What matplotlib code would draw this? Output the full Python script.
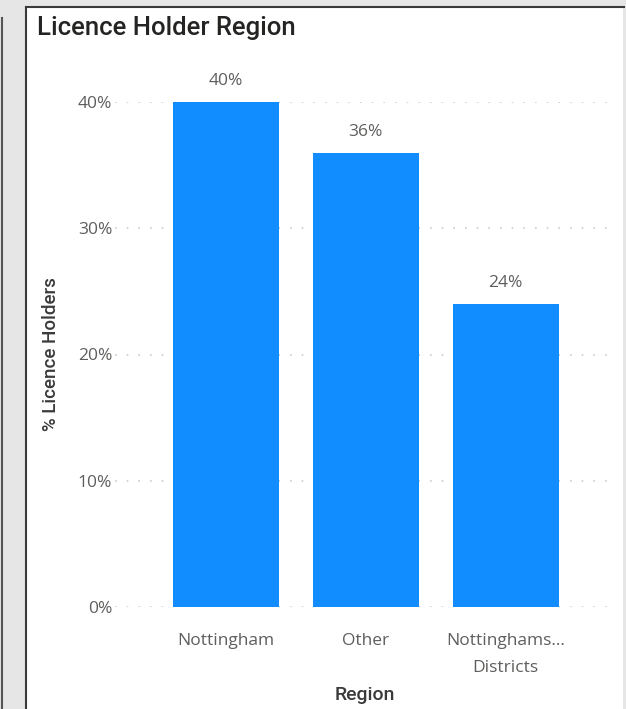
import matplotlib.pyplot as plt
from matplotlib.patches import Rectangle

regions = ["Nottingham", "Other", "Nottinghams...\nDistricts"]
pct_holders = [40, 36, 24]
y_ticks = [0, 10, 20, 30, 40]
y_tick_labels = ["0%", "10%", "20%", "30%", "40%"]

W, H = 626, 709
fig = plt.figure(figsize=(W / 100, H / 100), dpi=100)
fig.patch.set_facecolor("#e6e6e6")

# white visual panel with dark border (left/top)
fig.patches.append(Rectangle((27 / W, 0), (623 - 27) / W, (H - 8) / H,
                             transform=fig.transFigure, facecolor="white",
                             edgecolor="none", zorder=-10))
fig.add_artist(plt.Line2D([26 / W, 26 / W], [0, (H - 7) / H], transform=fig.transFigure,
                          color="#3a3a3a", lw=1.5, zorder=-5))
fig.add_artist(plt.Line2D([26 / W, 624 / W], [(H - 7) / H, (H - 7) / H],
                          transform=fig.transFigure, color="#3a3a3a", lw=1.5, zorder=-5))
fig.add_artist(plt.Line2D([2 / W, 2 / W], [0, (H - 18) / H], transform=fig.transFigure,
                          color="#555555", lw=1.5, zorder=-5))

ax = fig.add_axes([115 / W, 102 / H, 500 / W, 505 / H])
ax.set_facecolor("none")
ax.set_zorder(5)

x = list(range(len(regions)))
bars = ax.bar(x, pct_holders, width=0.757, color="#118DFF", zorder=2)
for b, v in zip(bars, pct_holders):
    ax.text(b.get_x() + b.get_width() / 2, v + 1.0, f"{v}%", ha="center", va="bottom",
            fontsize=12.5, color="#605E5C", family="Open Sans", clip_on=False)

ax.set_xlim(-0.79, 2.78)
ax.set_ylim(0, 40)
ax.set_yticks(y_ticks)
ax.set_yticklabels(y_tick_labels, fontsize=12.5, color="#605E5C", family="Open Sans")
ax.set_xticks(x)
ax.set_xticklabels(regions, fontsize=12.5, color="#605E5C", family="Open Sans",
                   linespacing=1.9, va="top")
ax.tick_params(axis="both", length=0)
ax.tick_params(axis="y", pad=2)
ax.tick_params(axis="x", pad=19)
ax.grid(axis="y", color="#cccccc", linestyle=(0, (1, 6)), lw=1.2, zorder=1)
for s in ax.spines.values():
    s.set_visible(False)

ax.set_ylabel("% Licence Holders", fontsize=13.5, color="#3a3a3a", family="Roboto",
              weight="medium", labelpad=13)
ax.set_xlabel("Region", fontsize=14, color="#3a3a3a", family="Roboto",
              weight="medium", labelpad=7)

fig.text(37 / W, 1 - 28 / H, "Licence Holder Region", fontsize=18.5, color="#252423",
         family="Roboto", weight="medium", va="center", ha="left")

fig.savefig("out.png", dpi=100)
